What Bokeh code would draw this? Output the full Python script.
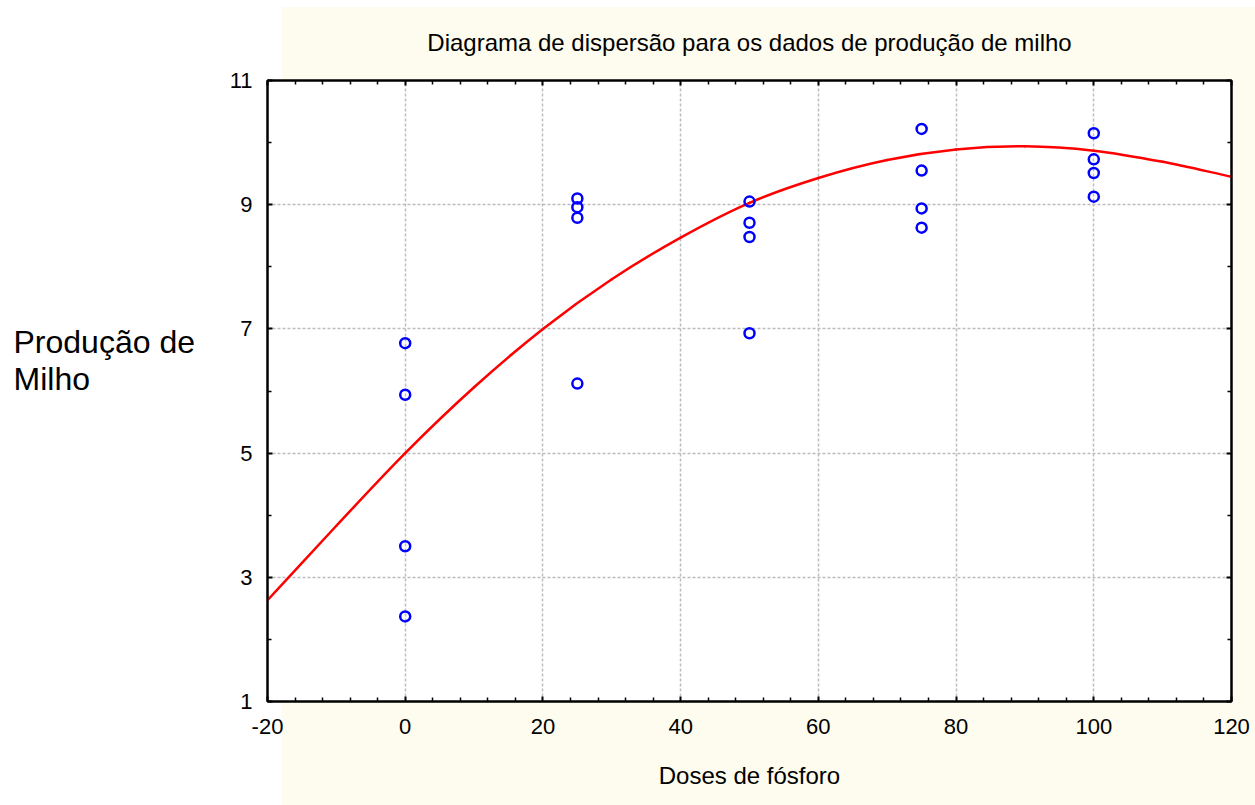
from bokeh.plotting import figure
from bokeh.models import LinearAxis, FixedTicker, Range1d, CustomJSTickFormatter
from bokeh.layouts import row
from bokeh.core.properties import value
from bokeh.embed import file_html
from bokeh.resources import INLINE

# ---------------- data ----------------
dose_levels = [0, 25, 50, 75, 100]
yield_dose0 = [6.77, 5.94, 3.50, 2.37]
yield_dose25 = [9.10, 8.96, 8.79, 6.12]
yield_dose50 = [9.05, 8.71, 8.48, 6.93]
yield_dose75 = [10.22, 9.55, 8.94, 8.63]
yield_dose100 = [10.15, 9.73, 9.51, 9.13]

# fitted curve
curve_x = [-20, -10, 0, 10, 20, 30, 40, 50, 60, 70, 80, 90, 100, 110, 120]
curve_y = [2.63, 3.83, 5.00, 6.06, 7.00, 7.80, 8.47, 9.03, 9.43, 9.72, 9.89, 9.94, 9.87, 9.69, 9.45]

x_ticks = [-20, 0, 20, 40, 60, 80, 100, 120]
x_tick_labels = ["-20", "0", "20", "40", "60", "80", "100", "120"]
y_ticks = [1, 3, 5, 7, 9, 11]

title_text = "Diagrama de dispersão para os dados de produção de milho"
x_label = "Doses de fósforo"
y_label_lines = ["Produção de", "Milho"]

# ---------------- build ----------------
groups = [yield_dose0, yield_dose25, yield_dose50, yield_dose75, yield_dose100]
pts_x = [d for d, g in zip(dose_levels, groups) for _ in g]
pts_y = [v for g in groups for v in g]

FONT = "Liberation Sans"
CREAM = "#fefcee"
LEFT_W = 210
W, H = 1255, 805
TOP, BOTTOM = 80, 701
x_minor = [v for v in range(-20, 121, 4) if v not in x_ticks]
y_minor = [2, 4, 6, 8, 10]
cut = 282 - LEFT_W

p = figure(
    frame_width=964, frame_height=BOTTOM - TOP,
    x_range=Range1d(-20, 120), y_range=Range1d(1, 11),
    output_backend="svg", toolbar_location=None,
    min_border_left=57, min_border_right=W - LEFT_W - 57 - 964,
    min_border_top=TOP, min_border_bottom=H - BOTTOM,
    border_fill_color=None, background_fill_color="white",
    outline_line_color="black", outline_line_width=2,
    styles={"background": f"linear-gradient(#ffffff 7px, rgba(255,255,255,0) 7px), "
                          f"linear-gradient(90deg, #ffffff {cut}px, {CREAM} {cut}px)"},
)

p.title.text = title_text
p.title.align = "center"
p.title.text_font = FONT
p.title.text_font_size = "24px"
p.title.text_font_style = "normal"
p.title.text_color = "black"
p.title.standoff = 49

xt = FixedTicker(ticks=x_ticks, minor_ticks=x_minor)
yt = FixedTicker(ticks=y_ticks, minor_ticks=y_minor)
blank = CustomJSTickFormatter(code="return ''")


def style_axis(ax, show_labels):
    ax.axis_line_color = "black"
    ax.axis_line_width = 2
    ax.major_tick_in = 5
    ax.major_tick_out = 0
    ax.minor_tick_in = 4
    ax.minor_tick_out = 0
    ax.major_tick_line_color = "black"
    ax.major_tick_line_width = 2
    ax.minor_tick_line_color = "black"
    ax.minor_tick_line_width = 1.5
    ax.major_label_text_font = FONT
    ax.major_label_text_color = "black"
    ax.major_label_text_font_size = "22px"
    if not show_labels:
        ax.formatter = blank
        ax.major_label_standoff = 0


p.xaxis.ticker = xt
p.yaxis.ticker = yt
style_axis(p.xaxis[0], True)
style_axis(p.yaxis[0], True)
p.xaxis.major_label_overrides = dict(zip(x_ticks, x_tick_labels))
p.xaxis.major_label_standoff = 17
p.yaxis.major_label_standoff = 15
p.xaxis.axis_label = x_label
p.xaxis.axis_label_text_font = FONT
p.xaxis.axis_label_text_font_size = "24px"
p.xaxis.axis_label_text_font_style = "normal"
p.xaxis.axis_label_text_color = "black"
p.xaxis.axis_label_standoff = 25

top_ax = LinearAxis(ticker=xt)
style_axis(top_ax, False)
p.add_layout(top_ax, "above")
right_ax = LinearAxis(ticker=yt)
style_axis(right_ax, False)
p.add_layout(right_ax, "right")

for g in (p.xgrid, p.ygrid):
    g.grid_line_color = "#bcbcbc"
    g.grid_line_width = 1.5
    g.grid_line_dash = "3 2"
p.xgrid.ticker = xt
p.ygrid.ticker = yt

# smooth rendering of the read curve: cubic Bezier segments through every read point
n = len(curve_x)
ext_x = [2 * curve_x[0] - curve_x[1]] + curve_x + [2 * curve_x[-1] - curve_x[-2]]
ext_y = [2 * curve_y[0] - curve_y[1]] + curve_y + [2 * curve_y[-1] - curve_y[-2]]
seg = dict(x0=[], y0=[], x1=[], y1=[], cx0=[], cy0=[], cx1=[], cy1=[])
for i in range(1, n):
    seg["x0"].append(ext_x[i]); seg["y0"].append(ext_y[i])
    seg["x1"].append(ext_x[i + 1]); seg["y1"].append(ext_y[i + 1])
    seg["cx0"].append(ext_x[i] + (ext_x[i + 1] - ext_x[i - 1]) / 6)
    seg["cy0"].append(ext_y[i] + (ext_y[i + 1] - ext_y[i - 1]) / 6)
    seg["cx1"].append(ext_x[i + 1] - (ext_x[i + 2] - ext_x[i]) / 6)
    seg["cy1"].append(ext_y[i + 1] - (ext_y[i + 2] - ext_y[i]) / 6)
p.bezier(source=seg, x0="x0", y0="y0", x1="x1", y1="y1",
         cx0="cx0", cy0="cy0", cx1="cx1", cy1="cy1",
         line_color="#ff0000", line_width=2.5, line_cap="round")

p.scatter(pts_x, pts_y, marker="circle", size=10, fill_color=None,
          line_color="#0000ff", line_width=2.5)

# left panel holding the horizontal y-axis title (its frame is aligned to the main frame)
lf = figure(width=LEFT_W, height=H, x_range=Range1d(0, LEFT_W), y_range=Range1d(BOTTOM, TOP),
            x_axis_type=None, y_axis_type=None,
            min_border_left=0, min_border_right=0,
            min_border_top=TOP, min_border_bottom=H - BOTTOM,
            output_backend="svg", toolbar_location=None,
            outline_line_color=None, background_fill_color="white", border_fill_color="white")
lf.text(x=[13, 13], y=[341.5, 378.5], text=y_label_lines,
        text_font=value(FONT), text_font_size="32px",
        text_baseline="middle", text_align="left", text_color="black")

layout = row(lf, p)
open("out.html", "w").write(file_html(layout, INLINE))
